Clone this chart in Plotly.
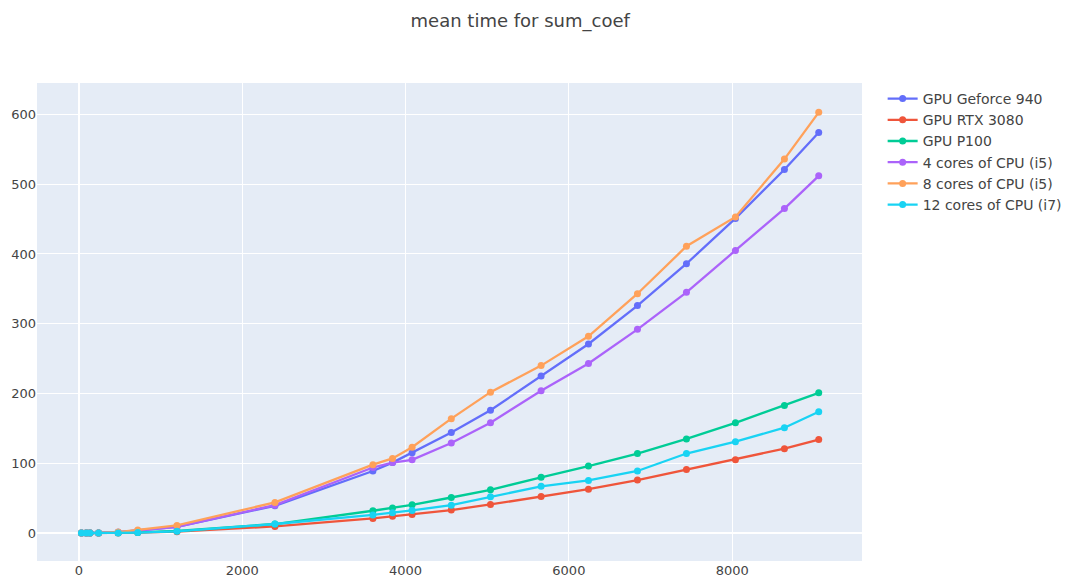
import plotly.graph_objects as go

# Matrix sizes and mean run times of sum_coef per device
sizes = [30, 90, 135, 240, 480, 720, 1200, 2400, 3600, 3840, 4080, 4560,
         5040, 5660, 6240, 6840, 7440, 8040, 8640, 9060]

geforce_940 = [0, 0, 0.1, 0.3, 1.2, 3.5, 9, 39, 89, 101, 115, 144,
               176, 225, 271, 326, 386, 451, 521, 574]
rtx_3080 = [0, 0, 0, 0.1, 0.3, 0.7, 2, 9.5, 21, 24, 26.5, 33,
            41, 52.5, 63, 76, 91, 105, 121, 134]
p100 = [0, 0, 0, 0.1, 0.4, 1, 3, 13, 32, 36, 40.5, 51,
        62, 80, 96, 114, 135, 158, 183, 201]
cpu4_i5 = [0, 0, 0.1, 0.3, 1.2, 3.5, 9, 40, 94, 101, 105, 129,
           158, 204, 243, 292, 345, 405, 465, 512]
cpu8_i5 = [0, 0, 0.1, 0.3, 1.5, 4.5, 11, 44, 98, 107, 123, 164,
           202, 240, 282, 343, 411, 453, 536, 603]
cpu12_i7 = [0, 0, 0, 0.1, 0.3, 0.8, 2.5, 13, 26, 29, 32.5, 40,
            52, 67, 75.5, 89, 114, 131, 151, 174]

series = [
    ("GPU Geforce 940", geforce_940),
    ("GPU RTX 3080", rtx_3080),
    ("GPU P100", p100),
    ("4 cores of CPU (i5)", cpu4_i5),
    ("8 cores of CPU (i5)", cpu8_i5),
    ("12 cores of CPU (i7)", cpu12_i7),
]

fig = go.Figure()
for name, values in series:
    fig.add_trace(go.Scatter(
        x=sizes, y=values, name=name, mode="lines+markers",
        line=dict(width=2.3), marker=dict(size=7),
    ))

fig.update_layout(
    template="plotly",
    width=1066, height=578,
    font=dict(family="DejaVu Sans", size=13, color="#444"),
    title=dict(text="mean time for sum_coef", x=0.488, xanchor="center",
               y=0.965, yanchor="middle", font=dict(size=18, color="#444")),
    margin=dict(l=37, r=204, t=83, b=17),
    legend=dict(font=dict(size=14), xref="container", x=0.828, y=1,
                xanchor="left", yanchor="top"),
    xaxis=dict(range=[-514, 9590], tickvals=[0, 2000, 4000, 6000, 8000],
               automargin=False),
    yaxis=dict(range=[-40, 645], tickvals=[0, 100, 200, 300, 400, 500, 600],
               automargin=False),
)

fig.write_html("out.html")
